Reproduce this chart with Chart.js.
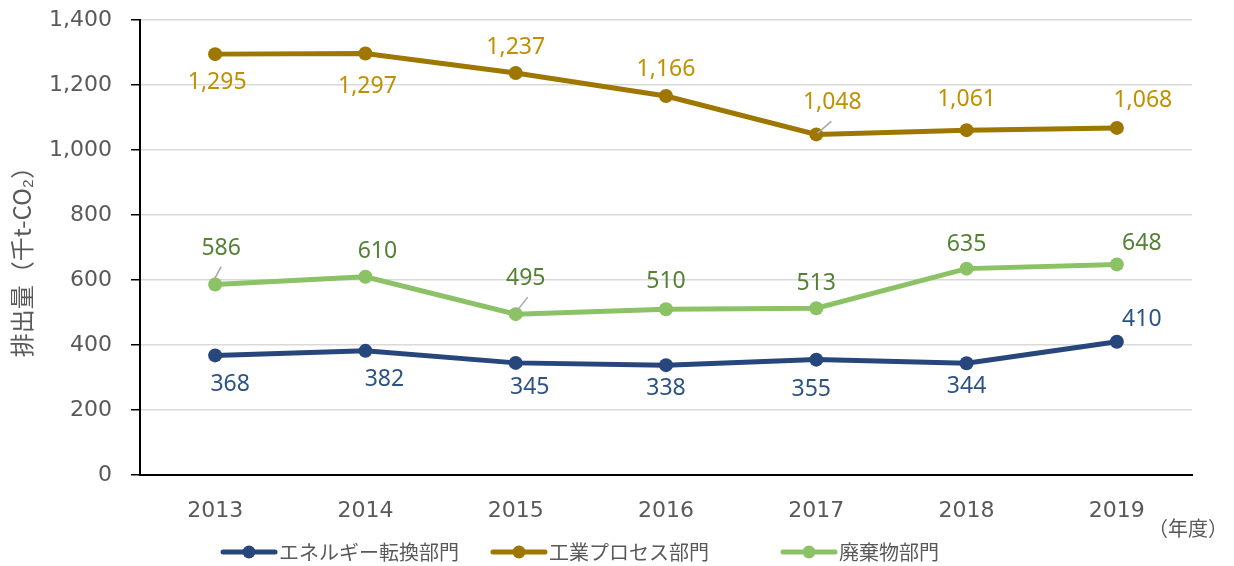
<!DOCTYPE html>
<html>
<head>
<meta charset="utf-8">
<script src="https://cdn.jsdelivr.net/npm/chart.js@4.4.1/dist/chart.umd.min.js"></script>
<style>
  html, body { margin: 0; padding: 0; background: #fff; }
  #wrap { width: 1234px; height: 566px; }
</style>
</head>
<body>
<div id="wrap"><canvas id="emissionChart" width="1234" height="566"></canvas></div>
<script>
// data
const years = ['2013', '2014', '2015', '2016', '2017', '2018', '2019'];
const energySector = [368, 382, 345, 338, 355, 344, 410];
const industrySector = [1295, 1297, 1237, 1166, 1048, 1061, 1068];
const wasteSector = [586, 610, 495, 510, 513, 635, 648];
const seriesNames = ['エネルギー転換部門', '工業プロセス部門', '廃棄物部門'];
const yMin = 0, yMax = 1400, yStep = 200;
const yTitle = '排出量（千t-CO₂）';
const xUnit = '（年度）';

// label placement (pixel offsets from each point), kept apart from the values
const labelOffsets = [
  [[15, 29], [19, 29], [14, 25], [0, 23], [-5, 30], [0, 23], [25, -22]],
  [[2, 28], [2, 33], [0, -26], [0, -27], [16, -32], [0, -31], [26, -27]],
  [[6, -36], [12, -25], [10, -36], [0, -28], [0, -25], [0, -24], [25, -21]]
];
// leader lines: [dx1, dy1, dx2, dy2] from point, or null
const leaders = [
  [null, null, null, null, null, null, null],
  [null, null, null, null, [1, -1, 15, -13], null, null],
  [[-1, -5, 6, -18], null, [1, -3, 12, -17], null, null, null, null]
];

const lineColors = ['#27467B', '#9E7700', '#8CC266'];
const labelColors = ['#2D5385', '#BF9000', '#548235'];
const textGray = '#595959';
const jpFont = '"Noto Sans CJK JP", sans-serif';

const fmt = v => v.toLocaleString('en-US');

const labelPlugin = {
  id: 'pointLabels',
  afterDatasetsDraw(chart) {
    const ctx = chart.ctx;
    ctx.save();
    chart.data.datasets.forEach((ds, di) => {
      const meta = chart.getDatasetMeta(di);
      meta.data.forEach((pt, i) => {
        const ld = leaders[di][i];
        if (ld) {
          ctx.strokeStyle = '#A6A6A6';
          ctx.lineWidth = 1.5;
          ctx.beginPath();
          ctx.moveTo(pt.x + ld[0], pt.y + ld[1]);
          ctx.lineTo(pt.x + ld[2], pt.y + ld[3]);
          ctx.stroke();
        }
        const off = labelOffsets[di][i];
        ctx.fillStyle = labelColors[di];
        ctx.font = '23px "Noto Sans", sans-serif';
        ctx.textAlign = 'center';
        ctx.textBaseline = 'middle';
        ctx.fillText(fmt(ds.data[i]), pt.x + off[0], pt.y + off[1]);
      });
    });
    ctx.restore();
  }
};

const extrasPlugin = {
  id: 'extras',
  afterDraw(chart) {
    const ctx = chart.ctx;
    ctx.save();
    // y axis title
    ctx.fillStyle = textGray;
    ctx.font = '24px ' + jpFont;
    ctx.translate(22, 256);
    ctx.rotate(-Math.PI / 2);
    ctx.textAlign = 'center';
    ctx.textBaseline = 'middle';
    ctx.fillText(yTitle, 0, 0);
    ctx.restore();

    ctx.save();
    ctx.fillStyle = textGray;
    ctx.font = '20px ' + jpFont;
    ctx.textAlign = 'right';
    ctx.textBaseline = 'middle';
    ctx.fillText(xUnit, 1228, 528);

    // legend
    const starts = [223, 493, 783];
    ctx.textAlign = 'left';
    chart.data.datasets.forEach((ds, di) => {
      const x = starts[di], y = 552;
      ctx.strokeStyle = lineColors[di];
      ctx.lineWidth = 5;
      ctx.lineCap = 'round';
      ctx.beginPath();
      ctx.moveTo(x, y);
      ctx.lineTo(x + 52, y);
      ctx.stroke();
      ctx.fillStyle = lineColors[di];
      ctx.beginPath();
      ctx.arc(x + 26, y, 6.5, 0, Math.PI * 2);
      ctx.fill();
      ctx.fillStyle = textGray;
      ctx.fillText(ds.label, x + 56, y);
    });
    ctx.restore();
  }
};

const makeSet = (i, data) => ({
  label: seriesNames[i],
  data: data,
  borderColor: lineColors[i],
  backgroundColor: lineColors[i],
  borderWidth: 5,
  pointRadius: 7,
  pointHoverRadius: 7,
  pointBorderWidth: 0,
  tension: 0,
  fill: false
});

const ctx = document.getElementById('emissionChart').getContext('2d');
new Chart(ctx, {
  type: 'line',
  data: {
    labels: years,
    datasets: [makeSet(0, energySector), makeSet(1, industrySector), makeSet(2, wasteSector)]
  },
  options: {
    responsive: false,
    animation: false,
    devicePixelRatio: 1,
    layout: { padding: { left: 0, right: 42, top: 20, bottom: 0 } },
    plugins: { legend: { display: false }, tooltip: { enabled: false } },
    scales: {
      x: {
        offset: true,
        grid: { display: false, drawTicks: false },
        border: { display: true, color: '#000', width: 2 },
        ticks: { color: textGray, font: { family: '"DejaVu Sans", sans-serif', size: 22 }, padding: 23 },
        afterFit: s => { s.height = 91; s.paddingLeft = 0; s.paddingRight = 0; }
      },
      y: {
        min: yMin,
        max: yMax,
        grid: {
          color: c => (c.tick && c.tick.value === 0 ? 'rgba(0,0,0,0)' : '#D9D9D9'),
          lineWidth: 1.5,
          tickColor: '#000',
          tickLength: 9
        },
        border: { display: true, color: '#000', width: 2 },
        ticks: {
          stepSize: yStep,
          color: textGray,
          font: { family: '"DejaVu Sans", sans-serif', size: 22 },
          padding: 19,
          callback: v => fmt(v)
        },
        afterFit: s => { s.width = 140; s.paddingTop = 0; s.paddingBottom = 0; }
      }
    }
  },
  plugins: [labelPlugin, extrasPlugin]
});
</script>
</body>
</html>
